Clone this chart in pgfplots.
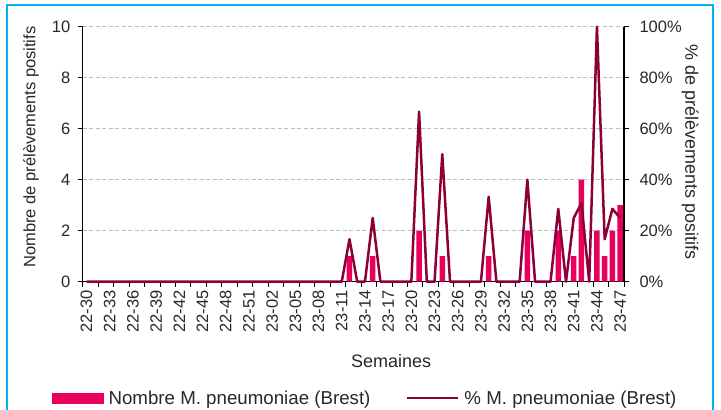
\documentclass[border=0pt]{standalone}
\usepackage{fontspec}
\setmainfont{Liberation Sans}
\usepackage{pgfplots}
\pgfplotsset{compat=1.18}
\usepackage{pgfplotstable}
\definecolor{barcol}{RGB}{232,0,92}
\definecolor{linecol}{RGB}{140,0,55}
\definecolor{framecol}{RGB}{0,176,240}
\definecolor{gridcol}{RGB}{190,190,190}
\definecolor{txt}{RGB}{40,40,40}
\pgfplotstableread{
x n p
0 0 0
1 0 0
2 0 0
3 0 0
4 0 0
5 0 0
6 0 0
7 0 0
8 0 0
9 0 0
10 0 0
11 0 0
12 0 0
13 0 0
14 0 0
15 0 0
16 0 0
17 0 0
18 0 0
19 0 0
20 0 0
21 0 0
22 0 0
23 0 0
24 0 0
25 0 0
26 0 0
27 0 0
28 0 0
29 0 0
30 0 0
31 0 0
32 0 0
33 0 0
34 1 16.67
35 0 0
36 0 0
37 1 25
38 0 0
39 0 0
40 0 0
41 0 0
42 0 0
43 2 66.67
44 0 0
45 0 0
46 1 50
47 0 0
48 0 0
49 0 0
50 0 0
51 0 0
52 1 33.33
53 0 0
54 0 0
55 0 0
56 0 0
57 2 40
58 0 0
59 0 0
60 0 0
61 2 28.57
62 0 0
63 1 25
64 4 30.77
65 0 0
66 2 100
67 1 16.67
68 2 28.57
69 3 25
}\data
\newcommand{\fs}[1]{\fontsize{#1bp}{#1bp}\selectfont}
\begin{document}
\begin{tikzpicture}
\useasboundingbox (0,0) rectangle (721bp,410bp);
\fill[white] (0,0) rectangle (721bp,410bp);
\draw[framecol, line width=2bp] (6.7bp,-20bp) -- (6.7bp,405bp) -- (712.7bp,405bp) -- (712.7bp,-20bp);
\pgfplotsset{
  common/.style={
    scale only axis, width=541.3bp, height=255bp,
    at={(82.7bp,128.3bp)}, anchor=south west,
    xmin=-0.5, xmax=69.5,
    tick align=outside, major tick length=5bp, minor tick length=5bp,
    /pgf/number format/assume math mode=true,
    ticklabel style={font=\fs{16.5}, text=txt},
    axis line style={black, line width=1.2bp},
    every tick/.style={black, line width=1bp},
  }
}
\begin{axis}[common,
  axis y line*=left, axis x line*=bottom,
  ymin=0, ymax=10, ytick={0,2,...,10},
  yticklabel style={xshift=-4bp},
  ymajorgrids, grid style={gridcol, dash pattern=on 4bp off 2.5bp, line width=1bp},
  xtick={0,3,...,69},
  xticklabels={22-30,22-33,22-36,22-39,22-42,22-45,22-48,22-51,23-02,23-05,23-08,23-11,23-14,23-17,23-20,23-23,23-26,23-29,23-32,23-35,23-38,23-41,23-44,23-47},
  minor xtick={-0.5,1.5,...,69.5},
  major x tick style={draw=none},
  xticklabel style={rotate=90, anchor=east},
  xlabel={Semaines},
  xlabel style={font=\fs{18}, text=txt, at={(axis description cs:0.5696,-0.311)}, anchor=center},
  ylabel={Nombre de prélèvements positifs},
  ylabel style={font=\fs{16.5}, text=txt, at={(axis description cs:-0.0955,0.528)}, anchor=center, rotate=0},
]
\addplot[ybar, bar width=5.5bp, fill=barcol, draw=none] table[x=x, y=n] {\data};
\end{axis}
\begin{axis}[common,
  axis y line*=right, axis x line=none,
  ymin=0, ymax=100, ytick={0,20,...,100},
  yticklabel={\pgfmathprintnumber{\tick}\%},
  yticklabel style={xshift=7bp},
  clip=false,
  ylabel={\% de prélèvements positifs},
  ylabel style={font=\fs{18}, text=txt, at={(axis description cs:1.122,0.5086)}, anchor=center, rotate=180},
  legend style={at={(axis description cs:-0.0567,-0.456)}, anchor=west, draw=none, fill=none,
    inner sep=0pt, legend columns=2, font=\fs{18.7}, text=txt,
    /tikz/every odd column/.append style={column sep=3bp},
    /tikz/every even column/.append style={column sep=34bp}},
]
\addlegendimage{legend image code/.code={\fill[barcol] (0bp,-5bp) rectangle (51bp,5bp);}}
\addlegendentry{Nombre M. pneumoniae (Brest)}
\addplot[linecol, line width=2.5bp, line join=round,
  legend image code/.code={\draw[linecol, line width=2bp] (0bp,0bp) -- (51bp,0bp);}] table[x=x, y=p] {\data};
\addlegendentry{\% M. pneumoniae (Brest)}
\end{axis}
\end{tikzpicture}
\end{document}
